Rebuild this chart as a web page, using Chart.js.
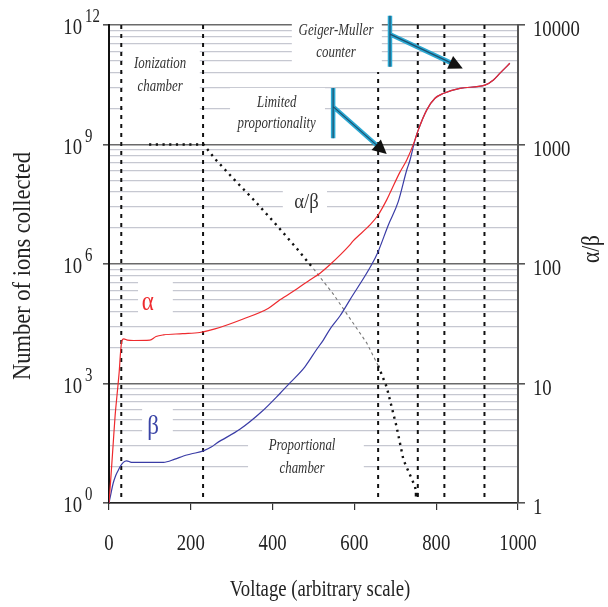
<!DOCTYPE html>
<html>
<head>
<meta charset="utf-8">
<script src="https://cdn.jsdelivr.net/npm/chart.js@4.4.1/dist/chart.umd.min.js"></script>
<style>
    body { margin: 0; background: #fff; }
    canvas { display: block; }
</style>
</head>
<body>
<canvas id="ion-chart" width="608" height="607"></canvas>
<script>
// Values (voltage, log10 of ions collected)
const ALPHA_VOLT = [0, 5, 10, 15, 20, 25, 28, 31, 36, 45, 60, 100, 115, 133, 180, 222, 259, 328, 390, 418, 460, 491, 516, 540, 589, 597, 638, 658, 679, 687, 711, 728, 748, 756, 777, 797, 817, 858, 919, 940, 956, 980];
const ALPHA_LOG  = [0, 0.7, 1.45, 2.2, 2.75, 3.3, 3.75, 4.05, 4.12, 4.09, 4.08, 4.09, 4.18, 4.22, 4.25, 4.28, 4.37, 4.62, 4.89, 5.10, 5.38, 5.60, 5.77, 5.98, 6.48, 6.58, 6.98, 7.23, 7.61, 7.78, 8.30, 8.61, 9.11, 9.36, 9.87, 10.16, 10.28, 10.41, 10.49, 10.62, 10.79, 11.04];

const BETA_VOLT = [0, 5, 10, 16, 23, 27, 35, 43, 55, 100, 133, 161, 182, 200, 231, 251, 263, 320, 373, 418, 443, 479, 508, 524, 540, 565, 589, 642, 658, 683, 707, 728, 736, 748, 756, 777, 797, 817, 858, 919, 940, 956, 980];
const BETA_LOG  = [0, 0.25, 0.49, 0.68, 0.83, 0.91, 1.02, 1.06, 1.02, 1.02, 1.02, 1.10, 1.18, 1.23, 1.31, 1.41, 1.50, 1.85, 2.29, 2.75, 3.02, 3.42, 3.86, 4.09, 4.36, 4.70, 5.10, 5.98, 6.31, 6.98, 7.56, 8.36, 8.61, 9.11, 9.36, 9.87, 10.16, 10.28, 10.41, 10.49, 10.62, 10.79, 11.04];

// alpha/beta ratio (voltage, log10 of ratio, right axis)
const RATIO_VOLT = [98, 231, 259, 308, 353, 406, 459, 500, 548, 630, 658, 679, 703, 720, 748, 752];
const RATIO_LOG  = [3.0, 3.0, 2.88, 2.70, 2.54, 2.34, 2.13, 1.96, 1.75, 1.34, 1.15, 0.97, 0.64, 0.36, 0.14, 0.07];

// region boundaries (dashed verticals): voltage and top/bottom exponent
const BOUNDARY_VOLT = [30, 230, 658, 755, 820, 918];
const BOUNDARY_TOP  = [12, 12, 10.82, 12, 12, 12];
const BOUNDARY_BOTTOM = 0.15;

const X_TICKS = [0, 200, 400, 600, 800, 1000];
const LEFT_EXPONENTS = [0, 3, 6, 9, 12];
const RIGHT_TICKS = [1, 10, 100, 1000, 10000];

// annotation text, anchored in data space (voltage, exponent)
const NOTES = [
    { lines: ['Ionization', 'chamber'], x: 125, base: [10.92, 10.34], box: [34, 222, 9.74, 11.45] },
    { lines: ['Limited', 'proportionality'], x: 410, base: [9.94, 9.41], box: [296, 528, 9.06, 10.42] },
    { lines: ['Geiger-Muller', 'counter'], x: 555, base: [11.75, 11.2], box: [447, 667, 10.97, 12.7] },
    { lines: ['Proportional', 'chamber'], x: 472, base: [1.33, 0.76], box: [340, 623, 0.70, 1.66] }
];
const SYMBOLS = [
    { text: 'α/β', x: 483, base: 7.41, size: 22, color: '#333', box: [425, 533, 7.05, 7.98] },
    { text: 'α', x: 95, base: 4.85, size: 27, color: '#ee2a2e', box: [71, 156, 4.64, 5.65] },
    { text: 'β', x: 108, base: 1.73, size: 27, color: '#3a44a6', box: [81, 156, 1.63, 2.46] }
];
const ARROWS = [
    { bar: [548, 9.16, 10.42], from: [548, 9.95], to: [679, 8.76] },
    { bar: [687, 10.95, 12.23], from: [687, 11.77], to: [865, 10.91] }
];

const SERIF = '"Liberation Serif", "DejaVu Serif", serif';
const SX = 0.78; // the source typography is condensed

function toPoints(xs, logs) {
    return xs.map((x, i) => ({ x: x, y: Math.pow(10, logs[i]) }));
}

function isDecade(v) {
    const l = Math.log10(v);
    return Math.abs(l - Math.round(l)) < 1e-9;
}

function text(ctx, s, x, y, opts) {
    ctx.save();
    ctx.translate(x, y);
    if (opts.rotate) ctx.rotate(opts.rotate);
    ctx.scale(opts.sx || SX, 1);
    ctx.font = opts.font;
    ctx.fillStyle = opts.color || '#222';
    ctx.textAlign = opts.align || 'center';
    ctx.textBaseline = 'alphabetic';
    ctx.fillText(s, 0, 0);
    ctx.restore();
}

class IonChart {
    constructor() {
        this.chart = null;
        this.initChart();
    }

    px(v) { return this.chart.scales.x.getPixelForValue(v); }
    py(e) { return this.chart.scales.y.getPixelForValue(Math.pow(10, e)); }

    boxes(ctx) {
        ctx.save();
        ctx.fillStyle = '#fff';
        NOTES.concat(SYMBOLS).forEach(n => {
            const [x0, x1, e0, e1] = n.box;
            const left = this.px(x0), right = this.px(x1);
            const top = this.py(e1), bottom = this.py(e0);
            ctx.fillRect(left, top, right - left, bottom - top);
        });
        ctx.restore();
    }

    notes(ctx) {
        NOTES.forEach(n => {
            n.lines.forEach((line, i) => {
                text(ctx, line, this.px(n.x), this.py(n.base[i]),
                    { font: 'italic 16.5px ' + SERIF, color: '#333' });
            });
        });
        SYMBOLS.forEach(s => {
            text(ctx, s.text, this.px(s.x), this.py(s.base),
                { font: s.size + 'px ' + SERIF, color: s.color, sx: 0.85 });
        });
    }

    arrows(ctx) {
        ARROWS.forEach(a => {
            const bx = this.px(a.bar[0]);
            const by0 = this.py(a.bar[1]), by1 = this.py(a.bar[2]);
            const fx = this.px(a.from[0]), fy = this.py(a.from[1]);
            const tx = this.px(a.to[0]), ty = this.py(a.to[1]);
            const ang = Math.atan2(ty - fy, tx - fx);
            const headLen = 14, headHalf = 7;
            const sx = tx - Math.cos(ang) * headLen * 0.8;
            const sy = ty - Math.sin(ang) * headLen * 0.8;

            ctx.save();
            ctx.lineCap = 'butt';
            [['#2ba8d2', 4.5], ['#1d4f6e', 1.2]].forEach(([col, w]) => {
                ctx.strokeStyle = col;
                ctx.lineWidth = w;
                ctx.beginPath();
                ctx.moveTo(bx, by0);
                ctx.lineTo(bx, by1);
                ctx.moveTo(fx, fy);
                ctx.lineTo(sx, sy);
                ctx.stroke();
            });
            ctx.fillStyle = '#111';
            ctx.beginPath();
            ctx.moveTo(tx, ty);
            const baseX = tx - Math.cos(ang) * headLen, baseY = ty - Math.sin(ang) * headLen;
            ctx.lineTo(baseX + Math.sin(ang) * headHalf, baseY - Math.cos(ang) * headHalf);
            ctx.lineTo(baseX - Math.sin(ang) * headHalf, baseY + Math.cos(ang) * headHalf);
            ctx.closePath();
            ctx.fill();
            ctx.restore();
        });
    }

    tickLabels(ctx) {
        const big = '24px ' + SERIF, small = '19px ' + SERIF;
        LEFT_EXPONENTS.forEach(e => {
            const y = this.py(e);
            text(ctx, '10', 82, y + 9, { font: big, align: 'right' });
            text(ctx, String(e), 85, y - 3, { font: small, align: 'left' });
        });
        const yR = this.chart.scales.yR;
        RIGHT_TICKS.forEach(v => {
            text(ctx, String(v), 533, yR.getPixelForValue(v) + 11, { font: big, align: 'left' });
        });
        X_TICKS.forEach(v => {
            text(ctx, String(v), this.px(v), 550, { font: big });
        });
        text(ctx, 'Voltage (arbitrary scale)', 320, 596, { font: '24px ' + SERIF });
        text(ctx, 'Number of ions collected', 30, 266,
            { font: '25px ' + SERIF, rotate: -Math.PI / 2, sx: 0.9 });
        text(ctx, 'α/β', 599, 249,
            { font: '25px ' + SERIF, rotate: -Math.PI / 2, sx: 0.85 });
    }

    initChart() {
        const self = this;
        const heavy = c => c.p0.parsed.x < 470 || c.p0.parsed.x >= 650;

        const datasets = [
            {
                label: 'alpha', data: toPoints(ALPHA_VOLT, ALPHA_LOG), yAxisID: 'y',
                borderColor: '#ee2a2e', borderWidth: 1.2, pointRadius: 0,
                cubicInterpolationMode: 'monotone', order: 1
            },
            {
                label: 'beta', data: toPoints(BETA_VOLT, BETA_LOG), yAxisID: 'y',
                borderColor: '#3a3ca6', borderWidth: 1.2, pointRadius: 0,
                cubicInterpolationMode: 'monotone', order: 2
            },
            {
                label: 'ratio', data: toPoints(RATIO_VOLT, RATIO_LOG), yAxisID: 'yR',
                borderColor: '#111', borderWidth: 2.4, tension: 0,
                pointRadius: RATIO_VOLT.map((v, i) => i === RATIO_VOLT.length - 1 ? 2.6 : 0),
                pointStyle: 'rect', pointBackgroundColor: '#111', pointBorderWidth: 0,
                segment: {
                    borderColor: c => heavy(c) ? '#111' : '#777',
                    borderDash: c => heavy(c) ? [2.2, 4.5] : [3, 3],
                    borderWidth: c => heavy(c) ? 2.4 : 1.1
                },
                order: 3
            }
        ];
        BOUNDARY_VOLT.forEach((v, i) => {
            datasets.push({
                label: 'boundary' + i,
                data: [{ x: v, y: Math.pow(10, BOUNDARY_BOTTOM) }, { x: v, y: Math.pow(10, BOUNDARY_TOP[i]) }],
                yAxisID: 'y', borderColor: '#111', borderWidth: 2,
                borderDash: [4, 5], pointRadius: 0, order: 4
            });
        });

        // chart is passed to every hook, this.chart is not set yet during the first draw
        const decorations = {
            id: 'decorations',
            beforeDraw(chart) {
                self.chart = chart;
                const ctx = chart.ctx;
                ctx.save();
                ctx.fillStyle = '#fff';
                ctx.fillRect(0, 0, chart.width, chart.height);
                ctx.restore();
            },
            beforeDatasetsDraw(chart) { self.chart = chart; self.boxes(chart.ctx); },
            afterDatasetsDraw(chart) {
                self.chart = chart;
                self.notes(chart.ctx);
                self.arrows(chart.ctx);
            },
            afterDraw(chart) { self.chart = chart; self.tickLabels(chart.ctx); }
        };

        const ctx = document.getElementById('ion-chart').getContext('2d');
        this.chart = new Chart(ctx, {
            type: 'line',
            data: { datasets: datasets },
            options: {
                responsive: false,
                animation: false,
                devicePixelRatio: 1,
                layout: { padding: { top: 25, left: 0, right: 0, bottom: 0 } },
                plugins: { legend: { display: false }, tooltip: { enabled: false } },
                scales: {
                    x: {
                        type: 'linear', min: 0, max: 1000, position: 'bottom',
                        afterFit: s => { s.height = 104; },
                        afterBuildTicks: s => { s.ticks = X_TICKS.map(v => ({ value: v })); },
                        ticks: { display: false },
                        grid: { drawOnChartArea: false, tickLength: 7, color: '#333', lineWidth: 1.2 },
                        border: { color: '#222', width: 1.5 }
                    },
                    y: {
                        type: 'logarithmic', position: 'left', min: 1, max: 1e12,
                        afterFit: s => { s.width = 109; },
                        afterBuildTicks: s => { s.ticks = LEFT_EXPONENTS.map(e => ({ value: Math.pow(10, e) })); },
                        ticks: { display: false },
                        grid: { drawOnChartArea: false, tickLength: 6, color: '#555', lineWidth: 1.6 },
                        border: { color: '#111', width: 2 }
                    },
                    yR: {
                        type: 'logarithmic', position: 'right', min: 1, max: 10000,
                        afterFit: s => { s.width = 90; },
                        afterBuildTicks: s => {
                            const t = [];
                            for (let d = 0; d < 4; d++) {
                                for (let m = 1; m < 10; m++) t.push({ value: m * Math.pow(10, d) });
                            }
                            t.push({ value: 10000 });
                            s.ticks = t;
                        },
                        ticks: { display: false },
                        grid: {
                            color: c => isDecade(c.tick.value) ? '#6a6a6a' : '#c6c8d1',
                            lineWidth: c => isDecade(c.tick.value) ? 1.6 : 1.3,
                            tickColor: c => isDecade(c.tick.value) ? '#555' : 'rgba(0,0,0,0)',
                            tickLength: 7
                        },
                        border: { color: '#555', width: 2 }
                    }
                }
            },
            plugins: [decorations]
        });
    }
}

window.ionChart = new IonChart();
</script>
</body>
</html>
